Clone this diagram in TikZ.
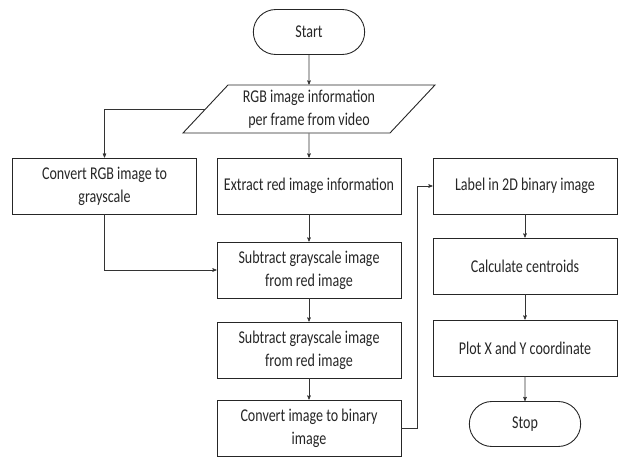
\documentclass[tikz,border=0pt]{standalone}
\usepackage{fontspec}
\setmainfont{Carlito}[FakeStretch=0.78]
\usetikzlibrary{arrows,shapes.geometric,shapes.misc}

\begin{document}
\begin{tikzpicture}[->,>=stealth',auto,node distance=80pt,x=1pt,y=-1pt,
                    line width=0.6pt,draw=black!80]
  \tikzstyle{every node}=[font=\fontsize{18}{23}\selectfont,align=center,text=black!85]
  \tikzstyle{process}=[draw=black!85,line width=0.9pt,minimum width=184pt,minimum height=56pt]
  \tikzstyle{terminal}=[draw=black!85,line width=0.9pt,rounded rectangle,
                        minimum width=118pt,minimum height=45pt]
  \tikzstyle{io}=[draw=black!85,line width=0.9pt,trapezium,trapezium left angle=45,
                  trapezium right angle=135,trapezium stretches body,
                  minimum width=252pt,minimum height=48pt]

  \useasboundingbox (0,0) rectangle (624,457);

  \node[terminal] (start) at (309,32) {Start};
  \node[io]       (rgb)  [below of=start, node distance=77pt] {RGB image information\\per frame from video};
  \node[process]  (red)  [below of=rgb, node distance=77pt] {Extract red image information};
  \node[process]  (gray) [left of=red, node distance=204.5pt] {Convert RGB image to\\grayscale};
  \node[process]  (sub1) [below of=red, node distance=84pt] {Subtract grayscale image\\from red image};
  \node[process]  (sub2) [below of=sub1] {Subtract grayscale image\\from red image};
  \node[process]  (bin)  [below of=sub2, node distance=78pt] {Convert image to binary\\image};
  \node[process]  (lab)  [right of=red, node distance=216pt] {Label in 2D binary image};
  \node[process]  (cen)  [below of=lab] {Calculate centroids};
  \node[process]  (plot) [below of=cen, node distance=82pt] {Plot X and Y coordinate};
  \node[terminal] (stop) [below of=plot, node distance=76pt] {Stop};

  \path (start) edge (rgb)
        (rgb)   edge (red)
        (red)   edge (sub1)
        (sub1)  edge (sub2)
        (sub2)  edge (bin)
        (lab)   edge (cen)
        (cen)   edge (plot)
        (plot)  edge (stop);
  \draw (rgb.west) -| (gray);
  \draw (gray) |- (sub1);
  \draw (bin.east) -- ++(16,0) |- (lab);
\end{tikzpicture}
\end{document}
